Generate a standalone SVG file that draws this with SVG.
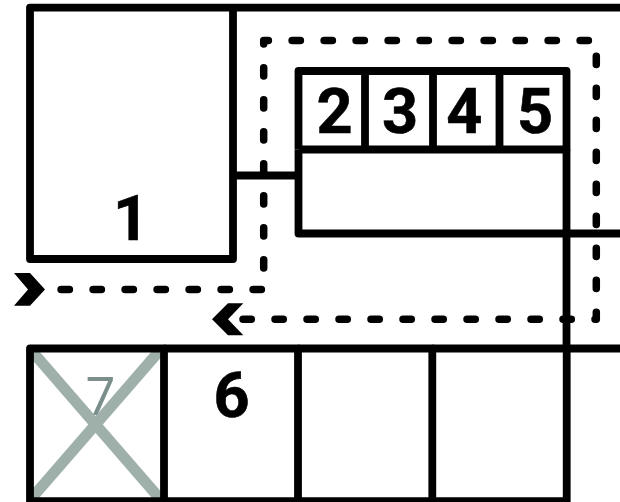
<svg xmlns="http://www.w3.org/2000/svg" width="620" height="502" viewBox="0 0 620 502">
<style>
.w{fill:none;stroke:#000;stroke-width:7.8;stroke-linejoin:round;stroke-linecap:butt}
.d{fill:none;stroke:#000;stroke-width:7.5;stroke-linejoin:round;stroke-linecap:round;stroke-dasharray:8.3 23.7}
.n{font-family:Roboto,"Liberation Sans",sans-serif;font-weight:700;font-size:63px;text-anchor:middle;fill:#000;stroke:#000;stroke-width:.6}
.x{fill:none;stroke:#9fb0aa;stroke-width:11}
.h{fill:#000}
</style>
<defs><clipPath id="inner"><rect x="30" y="348" width="134" height="153"/></clipPath></defs>
<rect width="620" height="502" fill="#fff"/>
<g id="connectors">
<path class="w" d="M233 175.5H298.5"/>
<path class="d" d="M243 319.3H596.3V40.5H263.7V289.5H60"/>
<polygon class="h" points="14,273 30,273 45,289.5 30,305.7 14,305.7 28,289.5"/>
<polygon class="h" points="212,319.3 228,303.3 243.3,303.3 228,319.3 243.3,335.3 228,335.3"/>
</g>
<g id="node-1"><path class="w" d="M620 7.6H30V259H233V7.6"/><text class="n" x="131" y="240">1</text></g>
<g id="node-2"><path class="w" d="M298.5 149.5V71H365V149.5"/><text class="n" x="334.7" y="132.7">2</text></g>
<g id="node-3"><path class="w" d="M365 71H433V149.5"/><text class="n" x="400" y="132.7">3</text></g>
<g id="node-4"><path class="w" d="M433 71H499.5V149.5"/><text class="n" x="464.3" y="132.7">4</text></g>
<g id="node-5"><path class="w" d="M499.5 71H566.5V149.5H298.5"/><text class="n" x="535" y="132.7">5</text></g>
<g id="hall"><path class="w" d="M298.5 149.5V233.5H620M566.5 149.5V348.5"/></g>
<g id="node-7"><text x="100.5" y="414.5" font-family="'Open Sans',sans-serif" font-weight="400" font-size="53" text-anchor="middle" fill="#7a8f8b">7</text><g clip-path="url(#inner)"><path class="x" d="M27 345.5L164 503.5M164 345.5L27 503.5"/></g><path class="w" d="M164 348.5H30V501.2H164Z"/></g>
<g id="node-6"><path class="w" d="M164 348.5H298V501.2H164"/><text class="n" x="231.5" y="416.7">6</text></g>
<g id="node-8"><path class="w" d="M298 348.5H432.3V501.2H298"/></g>
<g id="node-9"><path class="w" d="M432.3 348.5H566.7V501.2H432.3M566.7 348.5H620"/></g>
</svg>
